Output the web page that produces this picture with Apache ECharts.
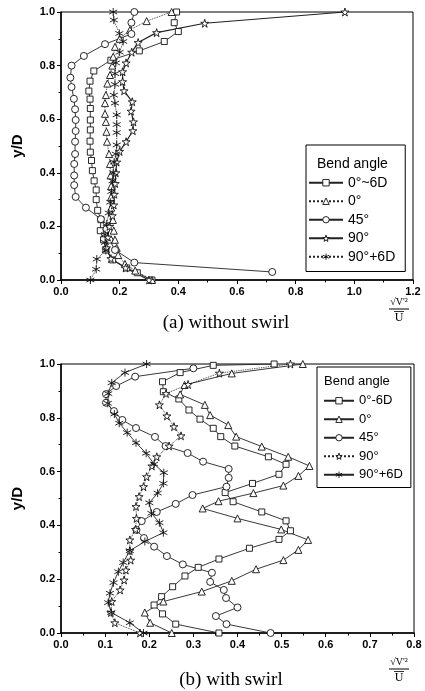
<!DOCTYPE html>
<html><head><meta charset="utf-8">
<script src="https://cdn.jsdelivr.net/npm/echarts@6/dist/echarts.min.js"></script>
<style>html,body{margin:0;padding:0;background:#fff}#c{width:425px;height:691px}</style>
</head><body><div id="c"></div>
<script>
// ---- Legend names ----
const legendA = ['0°~6D', '0°', '45°', '90°', '90°+6D'];
const legendB = ['0°-6D', '0°', '45°', '90°', '90°+6D'];
// ---- Axis ticks ----
const yTicks = [0, 1, 0.2];
const xTicksA = [0, 1.2, 0.2];
const xTicksB = [0, 0.8, 0.1];

// ---- (a) without swirl ----
const a_sq_x = [0.394,0.386,0.40,0.352,0.267,0.17,0.112,0.099,0.095,0.099,0.10,0.10,0.10,0.099,0.10,0.104,0.107,0.113,0.12,0.12,0.125,0.136,0.134,0.145,0.153,0.176,0.224,0.26,0.31];
const a_sq_y = [1.0,0.96,0.927,0.89,0.855,0.82,0.78,0.742,0.705,0.675,0.64,0.597,0.56,0.518,0.477,0.446,0.408,0.37,0.336,0.30,0.26,0.225,0.184,0.15,0.112,0.075,0.045,0.027,0.0];
const a_tri_x = [0.377,0.292,0.235,0.20,0.184,0.178,0.175,0.167,0.158,0.153,0.15,0.15,0.153,0.155,0.157,0.164,0.167,0.169,0.171,0.171,0.171,0.177,0.18,0.184,0.19,0.195,0.218,0.253,0.31];
const a_tri_y = [1.0,0.966,0.933,0.90,0.87,0.833,0.80,0.765,0.733,0.69,0.66,0.62,0.59,0.553,0.516,0.47,0.433,0.39,0.35,0.31,0.27,0.224,0.184,0.15,0.12,0.093,0.06,0.035,0.0];
const a_cir_x = [0.25,0.24,0.24,0.15,0.078,0.036,0.032,0.036,0.044,0.048,0.05,0.05,0.048,0.048,0.045,0.045,0.045,0.05,0.085,0.136,0.155,0.165,0.184,0.25,0.72];
const a_cir_y = [1.0,0.96,0.918,0.88,0.836,0.80,0.755,0.72,0.676,0.637,0.597,0.556,0.516,0.47,0.433,0.39,0.354,0.31,0.27,0.227,0.19,0.15,0.112,0.065,0.03];
const a_star_x = [0.968,0.49,0.326,0.263,0.241,0.222,0.21,0.21,0.215,0.243,0.239,0.247,0.245,0.222,0.20,0.19,0.187,0.185,0.182,0.18,0.175,0.165,0.16,0.155,0.17,0.22,0.30];
const a_star_y = [1.0,0.958,0.923,0.886,0.85,0.81,0.777,0.74,0.706,0.665,0.63,0.59,0.557,0.516,0.48,0.44,0.40,0.36,0.32,0.28,0.24,0.20,0.16,0.12,0.08,0.045,0.0];
const a_ast_x = [0.178,0.18,0.199,0.212,0.20,0.187,0.184,0.184,0.18,0.184,0.19,0.19,0.19,0.19,0.187,0.181,0.178,0.176,0.172,0.168,0.163,0.156,0.15,0.15,0.153,0.122,0.12,0.10];
const a_ast_y = [1.0,0.97,0.92,0.89,0.85,0.81,0.77,0.73,0.69,0.66,0.616,0.58,0.55,0.504,0.47,0.44,0.40,0.37,0.33,0.29,0.25,0.21,0.17,0.14,0.11,0.078,0.04,0.0];

// ---- (b) with swirl ----
const b_sq_x = [0.483,0.345,0.27,0.23,0.232,0.267,0.29,0.315,0.345,0.362,0.394,0.47,0.51,0.494,0.434,0.372,0.39,0.455,0.51,0.52,0.494,0.427,0.358,0.311,0.281,0.253,0.228,0.211,0.23,0.26,0.358];
const b_sq_y = [1.0,0.995,0.968,0.934,0.897,0.87,0.829,0.795,0.761,0.73,0.695,0.655,0.627,0.59,0.556,0.522,0.488,0.45,0.417,0.38,0.348,0.315,0.275,0.244,0.212,0.172,0.135,0.104,0.071,0.033,0.0];
const b_tri_x = [0.548,0.387,0.28,0.27,0.326,0.338,0.379,0.397,0.455,0.515,0.563,0.538,0.504,0.436,0.357,0.321,0.40,0.499,0.56,0.538,0.504,0.442,0.387,0.319,0.232,0.19,0.202,0.251];
const b_tri_y = [1.0,0.965,0.922,0.887,0.848,0.81,0.773,0.73,0.693,0.655,0.621,0.584,0.548,0.52,0.49,0.463,0.426,0.385,0.346,0.309,0.271,0.237,0.194,0.154,0.117,0.076,0.038,0.0];
const b_cir_x = [0.30,0.168,0.125,0.102,0.102,0.12,0.139,0.17,0.213,0.237,0.287,0.322,0.38,0.38,0.375,0.298,0.26,0.217,0.183,0.171,0.188,0.211,0.24,0.276,0.342,0.338,0.369,0.374,0.40,0.351,0.375,0.475];
const b_cir_y = [0.984,0.953,0.918,0.888,0.856,0.825,0.792,0.762,0.729,0.695,0.669,0.637,0.61,0.577,0.544,0.513,0.48,0.45,0.416,0.383,0.353,0.321,0.286,0.255,0.224,0.19,0.16,0.13,0.095,0.063,0.033,0.0];
const b_star_x = [0.52,0.359,0.288,0.238,0.223,0.24,0.256,0.272,0.245,0.217,0.206,0.194,0.187,0.177,0.17,0.171,0.169,0.156,0.156,0.158,0.147,0.143,0.134,0.115,0.113,0.122,0.179];
const b_star_y = [1.0,0.966,0.924,0.89,0.848,0.807,0.767,0.733,0.695,0.655,0.621,0.581,0.544,0.507,0.47,0.426,0.385,0.346,0.306,0.271,0.234,0.197,0.16,0.117,0.076,0.038,0.0];
const b_ast_x = [0.194,0.145,0.115,0.107,0.106,0.121,0.132,0.15,0.17,0.193,0.211,0.233,0.232,0.219,0.20,0.205,0.223,0.232,0.19,0.156,0.141,0.13,0.119,0.111,0.107,0.114,0.156,0.187];
const b_ast_y = [1.0,0.968,0.93,0.89,0.854,0.814,0.78,0.745,0.707,0.668,0.628,0.596,0.556,0.52,0.484,0.445,0.41,0.373,0.34,0.306,0.262,0.228,0.187,0.148,0.113,0.076,0.038,0.0];

const zip = (xs, ys) => xs.map((x, i) => [x, ys[i]]);

const STAR = 'path://M50 0 L61 35 L98 35 L68 57 L79 91 L50 70 L21 91 L32 57 L2 35 L39 35 Z';
const AST = 'path://M50 0 L50 100 M7 25 L93 75 M93 25 L7 75';
const symbols = ['rect', 'triangle', 'circle', STAR, AST];
const sizes = [6, 7, 7, 8, 8];

function mk(name, xs, ys, idx, k, lineType, lw) {
  const isAst = k === 4;
  return {
    name: name, type: 'line', xAxisIndex: idx, yAxisIndex: idx,
    data: zip(xs, ys), symbol: symbols[k], symbolSize: sizes[k],
    showAllSymbol: true, animation: false,
    lineStyle: { color: '#222', width: lw || 0.9, type: lineType || 'solid' },
    itemStyle: { color: isAst ? '#000' : '#fff', borderColor: '#111', borderWidth: 0.9 }
  };
}

const A = 'a|', B = 'b|';
const series = [
  mk(A + legendA[0], a_sq_x, a_sq_y, 0, 0, 'solid'),
  mk(A + legendA[1], a_tri_x, a_tri_y, 0, 1, 'dotted'),
  mk(A + legendA[2], a_cir_x, a_cir_y, 0, 2, 'solid'),
  mk(A + legendA[3], a_star_x, a_star_y, 0, 3, 'solid', 1.2),
  mk(A + legendA[4], a_ast_x, a_ast_y, 0, 4, 'dotted'),
  mk(B + legendB[0], b_sq_x, b_sq_y, 1, 0, 'solid'),
  mk(B + legendB[1], b_tri_x, b_tri_y, 1, 1, 'solid'),
  mk(B + legendB[2], b_cir_x, b_cir_y, 1, 2, 'solid'),
  mk(B + legendB[3], b_star_x, b_star_y, 1, 3, 'dotted'),
  mk(B + legendB[4], b_ast_x, b_ast_y, 1, 4, 'solid')
];

const font = 'Liberation Sans';
function xAx(idx, t) {
  return {
    type: 'value', gridIndex: idx, min: t[0], max: t[1], interval: t[2],
    axisLine: { show: true, onZero: false, lineStyle: { color: '#000', width: 1.5 } },
    axisTick: { show: true, inside: false, length: 4, lineStyle: { color: '#000', width: 1 } },
    minorTick: { show: true, splitNumber: 2, length: 2.5, lineStyle: { color: '#000' } },
    splitLine: { show: false },
    axisLabel: { color: '#000', fontFamily: font, fontSize: 11, fontWeight: 'bold', margin: 6,
      formatter: v => v.toFixed(1) }
  };
}
function yAx(idx) {
  return {
    type: 'value', gridIndex: idx, min: yTicks[0], max: yTicks[1], interval: yTicks[2],
    name: 'y/D', nameLocation: 'middle', nameGap: 36,
    nameTextStyle: { color: '#000', fontFamily: font, fontSize: 15, fontWeight: 'bold' },
    axisLine: { show: true, onZero: false, lineStyle: { color: '#000', width: 1.5 } },
    axisTick: { show: true, inside: false, length: 4, lineStyle: { color: '#000', width: 1 } },
    minorTick: { show: true, splitNumber: 2, length: 2.5, lineStyle: { color: '#000' } },
    splitLine: { show: false },
    axisLabel: { color: '#000', fontFamily: font, fontSize: 11, fontWeight: 'bold', margin: 6,
      formatter: v => v.toFixed(1) }
  };
}

const legendBase = {
  orient: 'vertical', borderColor: '#000', borderWidth: 1, backgroundColor: '#fff',
  itemGap: 3, itemWidth: 34, itemHeight: 8, selectedMode: false,
  formatter: n => n.slice(2),
  itemStyle: { color: '#fff', borderColor: '#111', borderWidth: 0.9 },
  textStyle: { color: '#000', fontFamily: font, fontSize: 14, lineHeight: 15.5 }
};

function fraction(cx, top) {
  return [
    { type: 'text', x: cx, y: top, style: { text: "√V'²", font: '10px Liberation Serif', fill: '#000', align: 'center', verticalAlign: 'top' } },
    { type: 'line', shape: { x1: cx - 10, y1: top + 12, x2: cx + 10, y2: top + 12 }, style: { stroke: '#000', lineWidth: 1 } },
    { type: 'line', shape: { x1: cx - 5, y1: top + 14.5, x2: cx + 5, y2: top + 14.5 }, style: { stroke: '#000', lineWidth: 0.8 } },
    { type: 'text', x: cx, y: top + 15, style: { text: 'U', font: '12px Liberation Serif', fill: '#000', align: 'center', verticalAlign: 'top' } }
  ];
}

const chart = echarts.init(document.getElementById('c'), null, { renderer: 'canvas' });
chart.setOption({
  backgroundColor: '#fff',
  animation: false,
  grid: [
    { left: 61, top: 12, right: 12, height: 268, show: true, borderColor: '#000', borderWidth: 1 },
    { left: 61, top: 364, right: 11, height: 269, show: true, borderColor: '#000', borderWidth: 1 }
  ],
  xAxis: [xAx(0, xTicksA), xAx(1, xTicksB)],
  yAxis: [yAx(0), yAx(1)],
  legend: [
    Object.assign({}, legendBase, { left: 306, top: 145, padding: [30, 10, 7, 2], data: legendA.map(n => A + n) }),
    Object.assign({}, legendBase, { left: 317, top: 367, padding: [26, 8, 5, 6], itemWidth: 30,
      textStyle: { color: '#000', fontFamily: font, fontSize: 13, lineHeight: 15.5 }, data: legendB.map(n => B + n) })
  ],
  graphic: [
    { type: 'text', left: 317, top: 157, z: 100, style: { text: 'Bend angle', font: '14px Liberation Sans', fill: '#000' } },
    { type: 'text', left: 324, top: 375, z: 100, style: { text: 'Bend angle', font: '13px Liberation Sans', fill: '#000' } },
    { type: 'text', x: 226, y: 323, style: { text: '(a) without swirl', font: '19px Liberation Serif', fill: '#000', align: 'center', verticalAlign: 'middle' } },
    { type: 'text', x: 231, y: 680, style: { text: '(b) with swirl', font: '19px Liberation Serif', fill: '#000', align: 'center', verticalAlign: 'middle' } }
  ].concat(fraction(399, 297), fraction(399, 657)),
  series: series
});
</script></body></html>
